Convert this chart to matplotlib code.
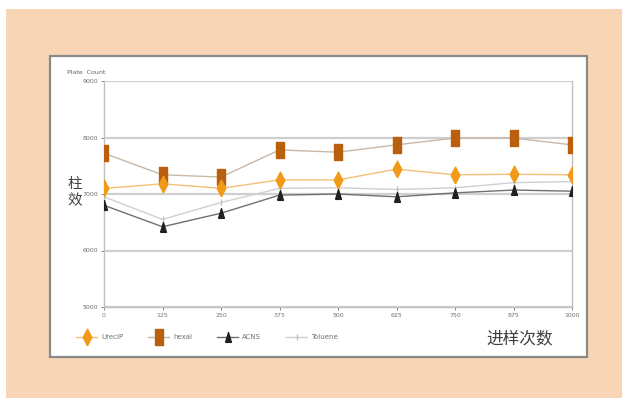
import numpy as np
import matplotlib.pyplot as plt
from matplotlib.patches import Rectangle

# injection counts and plate counts for each test compound
injections = [0, 125, 250, 375, 500, 625, 750, 875, 1000]
urecip = [7100, 7180, 7100, 7250, 7250, 7440, 7340, 7350, 7340]
hexal = [7720, 7340, 7300, 7780, 7740, 7870, 7990, 7990, 7870]
acns = [6800, 6420, 6660, 6980, 7000, 6950, 7020, 7070, 7050]
toluene = [6950, 6550, 6850, 7100, 7110, 7080, 7110, 7200, 7220]
yticks = [5000, 6000, 7000, 8000, 9000]

W, H = 622, 398
fig = plt.figure(figsize=(W/100, H/100), dpi=100)
fig.patch.set_facecolor('white')

def px(x0, y0, x1, y1):
    # pixel box (top-left origin) -> figure fraction
    return [x0/W, (H-y1)/H, (x1-x0)/W, (y1-y0)/H]

# peach backdrop and white chart panel
b = px(6, 9, 622, 398)
fig.add_artist(Rectangle((b[0], b[1]), b[2], b[3], transform=fig.transFigure,
                         facecolor='#f8d5b5', edgecolor='none', zorder=-10))
p = px(50, 56, 587, 357)
fig.add_artist(Rectangle((p[0], p[1]), p[2], p[3], transform=fig.transFigure,
                         facecolor='white', edgecolor='#8a8a8a', lw=1.6, zorder=-9))

ax = fig.add_axes(px(104, 81, 572, 307))
ax.set_facecolor('none')

# tall marker shapes
rect = [(-0.27, -0.5), (0.27, -0.5), (0.27, 0.5), (-0.27, 0.5), (-0.27, -0.5)]
diam = [(0, -0.5), (0.26, 0), (0, 0.5), (-0.26, 0), (0, -0.5)]
tri = [(-0.3, -0.5), (0.3, -0.5), (0, 0.5), (-0.3, -0.5)]

ax.plot(injections, toluene, color='#d0d0d0', lw=1.0, marker='|', ms=4,
        mec='#c0c0c0', label='Toluene', zorder=2)
ax.plot(injections, acns, color='#707070', lw=1.0, marker=tri, ms=7,
        mfc='#202020', mec='#202020', label='ACNS', zorder=3)
ax.plot(injections, hexal, color='#c8b8a8', lw=1.0, marker=rect, ms=11,
        mfc='#b95f0e', mec='#b95f0e', label='hexal', zorder=4)
ax.plot(injections, urecip, color='#f4c078', lw=1.0, marker=diam, ms=12,
        mfc='#f19a1a', mec='#f19a1a', label='UrecIP', zorder=5)

ax.set_xlim(0, 1000)
ax.set_ylim(5000, 9000)
ax.set_xticks(injections)
ax.set_xticklabels([str(v) for v in injections])
ax.set_yticks(yticks)
ax.set_yticklabels([str(v) for v in yticks])
ax.tick_params(labelsize=4.5, colors='#707070', length=2, width=0.6, pad=2)
ax.grid(axis='y', color='#cfcfcf', lw=1.6)
for s in ['left', 'right', 'bottom']:
    ax.spines[s].set_color('#c0c0c0')
    ax.spines[s].set_linewidth(1.0)
ax.spines['top'].set_visible(False)

fig.text(67/W, 1-72/H, 'Plate  Count', fontsize=4.5, color='#606060', va='center')
fig.text(75/W, 1-193/H, '柱\n效', fontsize=10.5, color='#404040',
         family=['Noto Sans CJK SC', 'DejaVu Sans'], ha='center', va='center',
         linespacing=1.3)
fig.text(520/W, 1-339/H, '进样次数', fontsize=12, color='#404040',
         family=['Noto Sans CJK SC', 'DejaVu Sans'], ha='center', va='center')

h, l = ax.get_legend_handles_labels()
order = [3, 2, 1, 0]
fig.legend([h[i] for i in order], [l[i] for i in order], ncol=4,
           loc='center left', bbox_to_anchor=(70/W, 1-337/H), frameon=False,
           fontsize=5, handlelength=3.0, handletextpad=0.6, columnspacing=3.6,
           labelcolor='#707070', markerscale=1.0)

fig.savefig('out.png', dpi=100)
